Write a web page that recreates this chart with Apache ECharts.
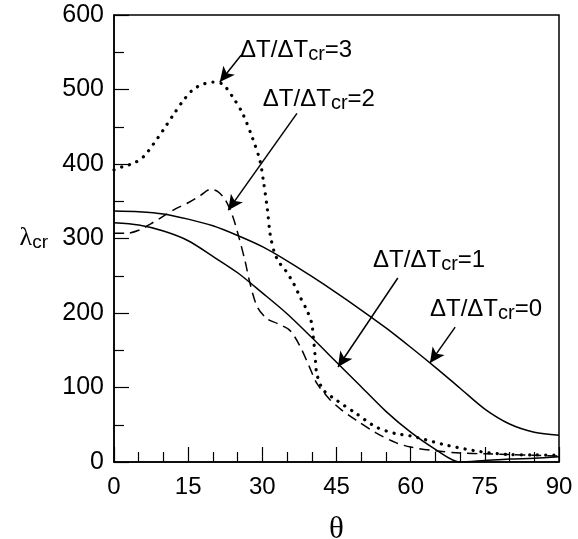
<!DOCTYPE html>
<html>
<head>
<meta charset="utf-8">
<script src="https://cdn.jsdelivr.net/npm/echarts@6/dist/echarts.min.js"></script>
<style>html,body{margin:0;padding:0;background:#fff;}#c{width:578px;height:539px;}</style>
</head>
<body>
<div id="c"></div>
<script>
// theta (deg) and lambda_cr values
var theta0 = [0, 5, 10, 15, 20, 25, 30, 35, 40, 45, 50, 55, 60, 65, 70, 75, 80, 85, 90];
var lam0   = [337, 336, 333, 326, 317, 304, 289, 270, 249, 227, 204, 180, 154, 127, 99, 71, 51, 40, 36];

var theta1 = [0, 5, 10, 15, 20, 25, 30, 35, 40, 45, 50, 55, 60, 65, 70, 75, 80, 85, 90];
var lam1   = [321, 318, 310, 297, 276, 254, 227, 199, 167, 134, 101, 68, 40, 17, 0, 2, 4, 5, 7];

var theta2 = [0, 2.5, 5, 7.5, 10, 12.5, 15, 17.5, 19.5, 21, 22.5, 24, 25, 26.5, 27.5, 29, 31, 33, 35.5, 37.5, 39.5, 41, 43.5, 46, 49, 53, 57, 60, 65, 70, 75, 80, 85, 90];
var lam2   = [307, 307, 311, 320, 330, 340, 348, 358, 366, 363, 352, 330, 308, 270, 240, 208, 192, 186, 177, 157, 128, 106, 85, 70, 56, 39, 26, 20, 15, 12, 11, 10, 9, 8];

var theta3 = [0, 2, 4, 6, 8, 10, 12, 14, 16, 18, 20, 22, 24, 26, 28, 29.5, 30.2, 31, 31.6, 32.5, 33.5, 34.6, 36.3, 37.6, 39, 40, 40.3, 40.7, 41, 42.3, 45, 49, 53, 57, 60, 67, 74, 80, 85, 90];
var lam3   = [392, 397, 401, 410, 427, 446, 466, 485, 500, 507, 510, 507, 490, 468, 435, 405, 378, 340, 305, 280, 267, 258, 240, 222, 204, 186, 168, 141, 119, 97, 83, 65, 47, 38, 35, 23, 14, 10, 9.5, 9];

var xTicks = [0, 15, 30, 45, 60, 75, 90];
var yTicks = [0, 100, 200, 300, 400, 500, 600];

// annotation texts and arrows (data coordinates)
var annoNames = ['3', '2', '1', '0'];
var annoTextAt = [[25.5, 552], [30.1, 487], [52.4, 270], [63.9, 205]];
var arrowFrom = [[25.7, 546], [37.0, 468], [57.4, 247], [69.0, 181]];
var arrowTo   = [[21.4, 510], [23.1, 338], [45.3, 127.5], [63.9, 133]];

function pairs(xs, ys) { return xs.map(function (x, i) { return [x, ys[i]]; }); }

var chart = echarts.init(document.getElementById('c'), null, {renderer: 'canvas'});
var SANS = 'Liberation Sans, Arial, sans-serif';
var SERIF = 'Liberation Serif, Times New Roman, serif';

var arrowLines = arrowFrom.map(function (f, i) {
  return [{coord: f}, {coord: arrowTo[i]}];
});

var option = {
  animation: false,
  backgroundColor: '#fff',
  grid: {left: 114, right: 19, top: 15, bottom: 77, containLabel: false, outerBoundsMode: 'none',
    show: true, borderColor: '#000', borderWidth: 1.5, backgroundColor: 'transparent'},
  xAxis: {
    type: 'value', min: 0, max: 90, interval: 15,
    name: 'θ', nameLocation: 'middle', nameGap: 52,
    nameTextStyle: {fontFamily: SERIF, fontSize: 31, color: '#000'},
    axisLine: {show: true, lineStyle: {color: '#000', width: 1.5}},
    axisTick: {show: true, inside: true, length: 15, lineStyle: {color: '#000', width: 1.2}},
    minorTick: {show: true, splitNumber: 3, length: 10, lineStyle: {color: '#000', width: 1.2}},
    splitLine: {show: false},
    axisLabel: {fontFamily: SANS, fontSize: 24, color: '#000', margin: 13,
      formatter: function (v) { return xTicks.indexOf(v) >= 0 ? String(v) : ''; }}
  },
  yAxis: {
    type: 'value', min: 0, max: 600, interval: 100,
    name: '{l|λ}{s|cr}', nameLocation: 'middle', nameGap: 66, nameRotate: 0,
    nameTextStyle: {align: 'right', rich: {
      l: {fontFamily: SERIF, fontSize: 26, color: '#000'},
      s: {fontFamily: SANS, fontSize: 19, color: '#000', padding: [8, 0, 0, 0]}
    }},
    axisLine: {show: true, lineStyle: {color: '#000', width: 1.5}},
    axisTick: {show: true, inside: true, length: 15, lineStyle: {color: '#000', width: 1.2}},
    minorTick: {show: true, splitNumber: 2, length: 10, lineStyle: {color: '#000', width: 1.2}},
    splitLine: {show: false},
    axisLabel: {fontFamily: SANS, fontSize: 25, color: '#000', margin: 10,
      formatter: function (v) { return yTicks.indexOf(v) >= 0 ? String(v) : ''; }}
  },
  series: [
    {type: 'line', name: '0', data: pairs(theta0, lam0), showSymbol: false, smooth: 0.3,
     lineStyle: {color: '#000', width: 1.5},
     markLine: {silent: true, symbol: ['none', 'arrow'], symbolSize: [11, 15], label: {show: false},
       lineStyle: {color: '#000', width: 1.5, type: 'solid'}, data: arrowLines}},
    {type: 'line', name: '1', data: pairs(theta1, lam1), showSymbol: false, smooth: 0.3,
     lineStyle: {color: '#000', width: 1.5}},
    {type: 'line', name: '2', data: pairs(theta2, lam2), showSymbol: false, smooth: 0.3,
     lineStyle: {color: '#000', width: 1.5, type: [10, 6]}},
    {type: 'line', name: '3', data: pairs(theta3, lam3), showSymbol: false, smooth: 0.3,
     lineStyle: {color: '#000', width: 3.2, type: [0.1, 8], cap: 'round'}}
  ]
};
chart.setOption(option);

var texts = annoTextAt.map(function (p, i) {
  var px = chart.convertToPixel({gridIndex: 0}, p);
  return {
    type: 'text', x: px[0], y: px[1], silent: true,
    style: {
      text: '{a|ΔT/ΔT}{s|cr}{a|=' + annoNames[i] + '}',
      align: 'left', verticalAlign: 'middle',
      rich: {
        a: {fontFamily: SANS, fontSize: 24, fill: '#000'},
        s: {fontFamily: SANS, fontSize: 20, fill: '#000', padding: [8, 0, 0, 0]}
      }
    }
  };
});
chart.setOption({graphic: texts});
</script>
</body>
</html>
